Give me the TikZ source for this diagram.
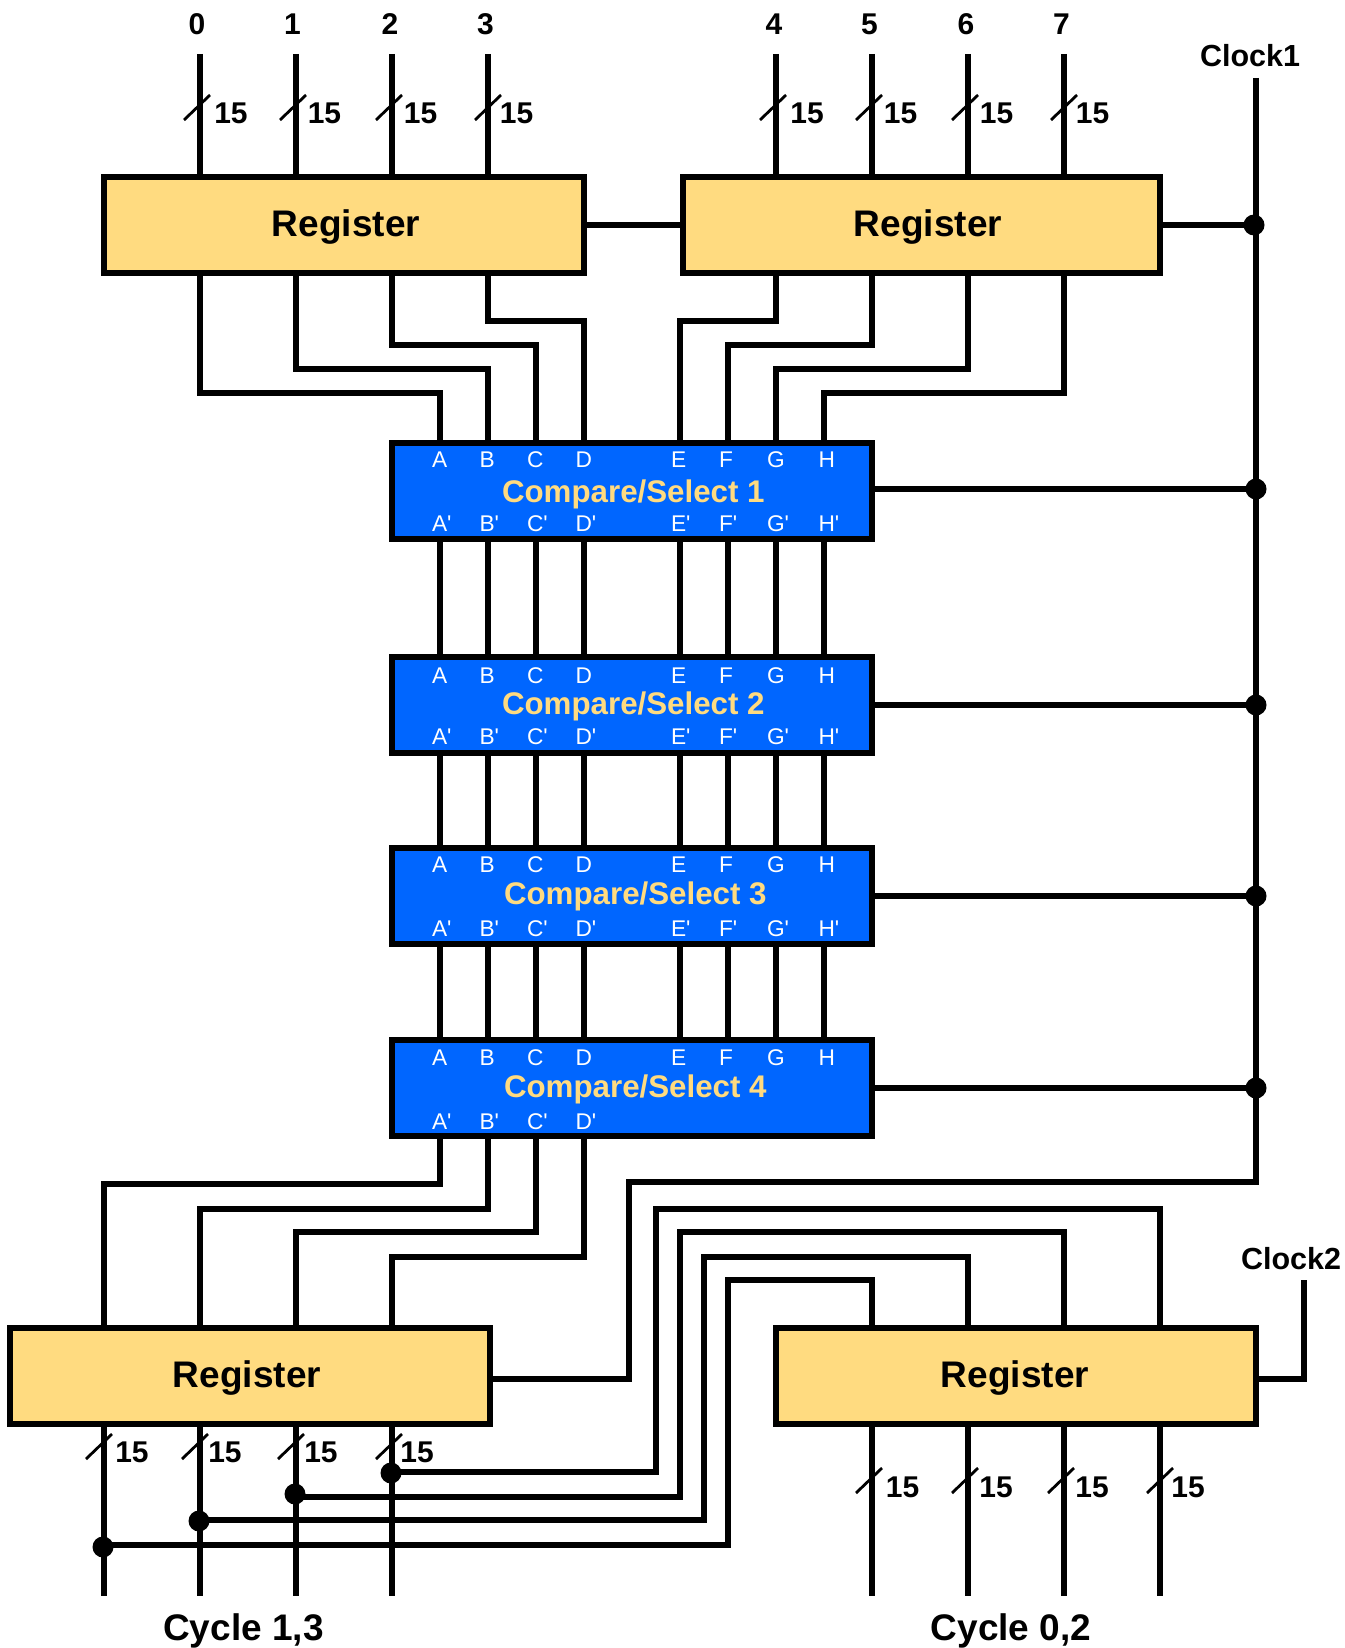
\documentclass[tikz,border=0pt]{standalone}
\usepackage{fontspec}
\setmainfont{Liberation Sans}
\newfontfamily\pinfont{Liberation Sans}
\definecolor{regfill}{RGB}{255,219,128}
\definecolor{csfill}{RGB}{0,102,255}
\tikzset{
  wire/.style={line width=5.5pt,line join=miter,line cap=butt,draw=black},
  tickmark/.style={line width=2.8pt,draw=black},
  regbox/.style={rectangle,draw=black,line width=5.6pt,fill=regfill,inner sep=0pt,outer sep=0pt,minimum height=96pt},
  csbox/.style={rectangle,draw=black,line width=5.6pt,fill=csfill,inner sep=0pt,outer sep=0pt,minimum width=480pt,minimum height=96pt},
  jdot/.style={circle,fill=black,draw=none,inner sep=0pt,outer sep=0pt,minimum size=21pt},
  txt/.style={inner sep=0pt,outer sep=0pt,anchor=base},
  regtxt/.style={txt,font=\fontsize{37}{37}\selectfont\bfseries},
  numtxt/.style={txt,font=\fontsize{30}{30}\selectfont\bfseries},
  clktxt/.style={txt,font=\fontsize{30.5}{30.5}\selectfont\bfseries},
  cyctxt/.style={txt,font=\fontsize{37}{37}\selectfont\bfseries},
  cstxt/.style={txt,font=\fontsize{31.3}{31.3}\selectfont\bfseries,text=regfill,anchor=base west},
  pintxt/.style={txt,font=\pinfont\fontsize{22.7}{22.7}\selectfont,text=white,anchor=base west},
}
\begin{document}
\begin{tikzpicture}[x=1pt,y=-1pt]
\useasboundingbox (0,0) rectangle (1344,1648);
% column positions
\foreach \n/\x in {0/200,1/296,2/392,3/488,4/776,5/872,6/968,7/1064}
  \coordinate (t\n) at (\x,54);
\foreach \n/\x in {A/440,B/488,C/536,D/584,E/680,F/728,G/776,H/824}
  \coordinate (x\n) at (\x,0);
\foreach \n/\x in {0/104,1/200,2/296,3/392,4/872,5/968,6/1064,7/1160}
  \coordinate (b\n) at (\x,1596);
% boxes (geometry only used for anchors until drawn below)
\path
  node[regbox,minimum width=480pt,draw=none,fill=none] (r1g) at (344,225) {}
  node[regbox,minimum width=477pt,draw=none,fill=none] (r2g) at (921.5,225) {}
  node[regbox,minimum width=480pt,draw=none,fill=none] (r3g) at (250,1376) {}
  node[regbox,minimum width=480pt,draw=none,fill=none] (r4g) at (1016,1376) {}
  node[csbox,draw=none,fill=none] (c1g) at (632,491) {}
  node[csbox,draw=none,fill=none] (c2g) at (632,705) {}
  node[csbox,draw=none,fill=none] (c3g) at (632,896) {}
  node[csbox,draw=none,fill=none] (c4g) at (632,1088) {};
% dots
\node[jdot] (k1) at (1254,225) {};
\node[jdot] (k2) at (1256,489) {};
\node[jdot] (k3) at (1256,705) {};
\node[jdot] (k4) at (1256,896) {};
\node[jdot] (k5) at (1256,1088) {};
\node[jdot] (d3) at (391,1473) {};
\node[jdot] (d2) at (295,1494) {};
\node[jdot] (d1) at (199,1521) {};
\node[jdot] (d0) at (103,1547) {};
% inputs
\foreach \n in {0,...,7}
  \draw[wire] (t\n) -- (t\n |- r1g.north);
% register 1 to compare 1
\draw[wire] (t0 |- r1g.south) -- ++(0,120) -| (xA |- c1g.north);
\draw[wire] (t1 |- r1g.south) -- ++(0,96) -| (xB |- c1g.north);
\draw[wire] (t2 |- r1g.south) -- ++(0,72) -| (xC |- c1g.north);
\draw[wire] (t3 |- r1g.south) -- ++(0,48) -| (xD |- c1g.north);
\draw[wire] (t4 |- r2g.south) -- ++(0,48) -| (xE |- c1g.north);
\draw[wire] (t5 |- r2g.south) -- ++(0,72) -| (xF |- c1g.north);
\draw[wire] (t6 |- r2g.south) -- ++(0,96) -| (xG |- c1g.north);
\draw[wire] (t7 |- r2g.south) -- ++(0,120) -| (xH |- c1g.north);
% between compare stages
\foreach \n in {A,B,C,D,E,F,G,H} {
  \draw[wire] (x\n |- c1g.south) -- (x\n |- c2g.north);
  \draw[wire] (x\n |- c2g.south) -- (x\n |- c3g.north);
  \draw[wire] (x\n |- c3g.south) -- (x\n |- c4g.north);
}
% compare 4 to register 3
\draw[wire] (xA |- c4g.south) -- ++(0,48) -| (b0 |- r3g.north);
\draw[wire] (xB |- c4g.south) -- ++(0,73) -| (b1 |- r3g.north);
\draw[wire] (xC |- c4g.south) -- ++(0,96) -| (b2 |- r3g.north);
\draw[wire] (xD |- c4g.south) -- ++(0,121) -| (b3 |- r3g.north);
% outputs
\foreach \n in {0,...,3}
  \draw[wire] (b\n |- r3g.south) -- (b\n);
\foreach \n in {4,...,7}
  \draw[wire] (b\n |- r4g.south) -- (b\n);
% register 3 outputs looped to register 4
\coordinate (l3) at (391,1472);  \coordinate (v3) at (656,1209);
\coordinate (l2) at (295,1497);  \coordinate (v2) at (680,1232);
\coordinate (l1) at (199,1520);  \coordinate (v1) at (704,1257);
\coordinate (l0) at (103,1545);  \coordinate (v0) at (728,1280);
\draw[wire] (l3) -| (v3) -| (b7 |- r4g.north);
\draw[wire] (l2) -| (v2) -| (b6 |- r4g.north);
\draw[wire] (l1) -| (v1) -| (b5 |- r4g.north);
\draw[wire] (l0) -| (v0) -| (b4 |- r4g.north);
% clocks
\coordinate (ck1) at (1256,78);
\coordinate (vk) at (629,1182);
\coordinate (r3ck) at (488,1379);
\draw[wire] (ck1) |- (vk) |- (r3ck);
\draw[wire] (r1g.east) -- (r2g.west);
\draw[wire] (r2g.east) -- (k1);
\draw[wire] (c1g.east |- k2) -- (k2);
\draw[wire] (c2g.east |- k3) -- (k3);
\draw[wire] (c3g.east |- k4) -- (k4);
\draw[wire] (c4g.east |- k5) -- (k5);
\coordinate (ck2) at (1304,1280);
\coordinate (r4ck) at (1256,1379);
\draw[wire] (ck2) |- (r4ck);
% visible boxes
\node[regbox,minimum width=480pt] (r1) at (r1g) {};
\node[regbox,minimum width=477pt] (r2) at (r2g) {};
\node[regbox,minimum width=480pt] (r3) at (r3g) {};
\node[regbox,minimum width=480pt] (r4) at (r4g) {};
\node[csbox] (c1) at (c1g) {};
\node[csbox] (c2) at (c2g) {};
\node[csbox] (c3) at (c3g) {};
\node[csbox] (c4) at (c4g) {};
% box texts
\node[regtxt] (r1t) at (346,236) {Register};
\node[regtxt] (r2t) at (928,236) {Register};
\node[regtxt] (r3t) at (247,1387) {Register};
\node[regtxt] (r4t) at (1015,1387) {Register};
\node[cstxt] (c1t) at (502,502) {Compare/Select 1};
\node[cstxt] (c2t) at (502,714.5) {Compare/Select 2};
\node[cstxt] (c3t) at (504,904.5) {Compare/Select 3};
\node[cstxt] (c4t) at (504,1097) {Compare/Select 4};
% pin letters
\foreach \c/\yt/\yb in {1/467/531,2/683/744,3/872/936,4/1065/1129}
  \foreach \l/\x in {A/432,B/479.5,C/527,D/575.5} {
    \node[pintxt] (c\c u\l) at (\x,\yt) {\l};
    \node[pintxt] (c\c d\l) at (\x,\yb) {\l'};
  }
\foreach \c/\yt/\yb in {1/467/531,2/683/744,3/872/936}
  \foreach \l/\x in {E/671,F/719,G/767,H/818.5} {
    \node[pintxt] (c\c u\l) at (\x,\yt) {\l};
    \node[pintxt] (c\c d\l) at (\x,\yb) {\l'};
  }
\foreach \l/\x in {E/671,F/719,G/767,H/818.5}
  \node[pintxt] (c4u\l) at (\x,1065) {\l};
% input numbers
\foreach \n/\x in {0/197,1/292.5,2/390,3/485.5,4/774,5/869.5,6/966,7/1061.5}
  \node[numtxt] (in\n) at (\x,34.6) {\n};
% bus width marks
\foreach \i/\x/\lx in {0/184/231,1/280/324.5,2/376/420.5,3/475/516.5,4/760/807,5/856/900.5,6/952/996.5,7/1051/1092.5} {
  \draw[tickmark] (\x,120) -- ++(26,-25);
  \node[numtxt] (wt\i) at (\lx,123.6) {15};
}
\foreach \i/\x/\lx in {0/86/132,1/182/225,2/278/321,3/376/417} {
  \draw[tickmark] (\x,1459) -- ++(26,-25);
  \node[numtxt] (wl\i) at (\lx,1462) {15};
}
\foreach \i/\x/\lx in {0/856/902.5,1/952/996,2/1048/1092,3/1147/1188} {
  \draw[tickmark] (\x,1493) -- ++(26,-25);
  \node[numtxt] (wr\i) at (\lx,1497) {15};
}
% signal names
\node[clktxt] (clk1) at (1250,67) {Clock1};
\node[clktxt] (clk2) at (1291,1269.5) {Clock2};
\node[cyctxt] (cy13) at (243.5,1640.5) {Cycle 1,3};
\node[cyctxt] (cy02) at (1011,1640.5) {Cycle 0,2};
\end{tikzpicture}
\end{document}
